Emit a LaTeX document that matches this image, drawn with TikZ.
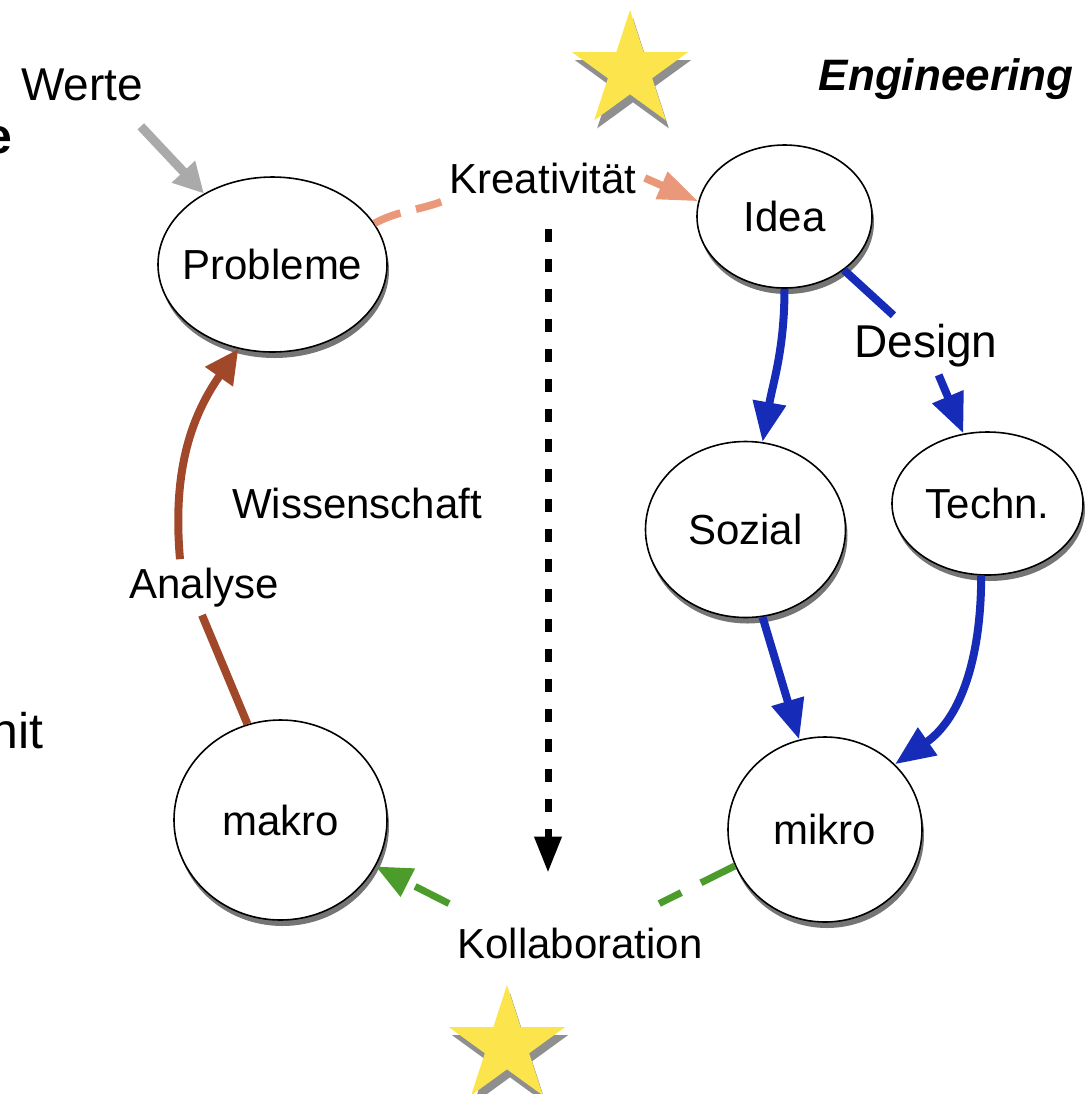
\documentclass[tikz,border=0pt]{standalone}
\usepackage{fontspec}
\setmainfont{Liberation Sans}
\usetikzlibrary{shapes.geometric,shadows,arrows.meta}

\definecolor{starfill}{RGB}{252,228,76}
\definecolor{flowgrey}{RGB}{170,170,170}
\definecolor{floworange}{RGB}{233,152,122}
\definecolor{flowbrown}{RGB}{162,72,42}
\definecolor{flowblue}{RGB}{22,44,184}
\definecolor{flowgreen}{RGB}{76,156,44}

\tikzset{
  bubble/.style={ellipse, draw, line width=0.8pt, fill=white, inner xsep=-6pt, inner ysep=0pt,
    drop shadow={shadow xshift=1pt, shadow yshift=-3pt, fill=black!60, opacity=0.9},
    font=\fontsize{21}{25}\selectfont},
  tag/.style={font=\fontsize{21}{25}\selectfont, inner sep=4pt, anchor=base},
  starnode/.style={star, star points=5, star point ratio=2.618, fill=starfill, inner sep=0pt,
    minimum size=61pt, drop shadow={shadow xshift=1.5pt, shadow yshift=-4pt, fill=black!55, opacity=0.8}},
  greyflow/.style={draw=flowgrey, line width=4.5pt, -{Triangle[length=15pt,width=15pt]}},
  orangeflow/.style={draw=floworange, line width=3.8pt, dash pattern=on 14pt off 8pt, -{Triangle[length=20pt,width=14pt]}},
  brownflow/.style={draw=flowbrown, line width=4pt, -{Triangle[length=17pt,width=16pt]}},
  blueflow/.style={draw=flowblue, line width=4pt, -{Triangle[length=20pt,width=16pt]}},
  greenflow/.style={draw=flowgreen, line width=3.5pt, dash pattern=on 19pt off 11pt, -{Triangle[length=18pt,width=15pt]}},
  dotflow/.style={draw=black, line width=3.5pt, dash pattern=on 6.5pt off 8.5pt, -{Triangle[length=18pt,width=13pt]}}
}

\begin{document}
\begin{tikzpicture}[x=0.5pt,y=-0.5pt]
\useasboundingbox (0,0) rectangle (1084,1094);

% Stars
\node[starnode] (startop) at (630,71) {};
\node[starnode] (starbot) at (507,1046) {};

% Cut-off words at the left edge
\node[font=\fontsize{25}{30}\selectfont\bfseries, inner sep=0pt, anchor=base east] (frage) at (13,153) {e};
\node[font=\fontsize{25}{30}\selectfont, inner sep=0pt, anchor=base east] (fragnit) at (44,748) {nit};

% Bubbles
\node[bubble, minimum width=114.5pt, minimum height=87.5pt] (probleme) at (272.5,264.5) {Probleme};
\node[bubble, minimum width=87.5pt, minimum height=71.5pt] (idea) at (784.5,216.5) {Idea};
\node[bubble, minimum width=100pt, minimum height=88pt] (sozial) at (745.5,529.5) {Sozial};
\node[bubble, minimum width=95.5pt, minimum height=71.5pt] (techn) at (987.5,503.5) {Techn.};
\node[bubble, minimum width=106.5pt, minimum height=100pt] (makro) at (280.5,820) {makro};
\node[bubble, minimum width=97pt, minimum height=92.5pt] (mikro) at (825,829.5) {mikro};

% Labels
\node[tag, font=\fontsize{23}{27}\selectfont] (werte) at (82,100) {Werte};
\node[tag, font=\fontsize{22}{26}\selectfont\bfseries\itshape] (eng) at (946,90) {Engineering};
\node[tag] (kreat) at (543,193) {Kreativität};
\node[tag, font=\fontsize{23}{27}\selectfont] (design) at (926,357) {Design};
\node[tag] (wissen) at (357,518) {Wissenschaft};
\node[tag] (analyse) at (204,598) {Analyse};
\node[tag, outer sep=8pt] (kollab) at (580,958) {Kollaboration};

% Werte
\draw[greyflow, shorten <=12pt] (werte.-30) -- (probleme.134);

% Kreativitaet
\draw[orangeflow, -] (probleme.22) to[out=28,in=200] (kreat.south west);
\draw[orangeflow] (kreat.east) -- (idea.170);
\draw[dotflow, shorten <=13.5pt, shorten >=15.5pt] ([xshift=2.5pt]kreat.south) -- ([xshift=-16pt]kollab.north);

% Design
\draw[blueflow] (idea.south) to[out=-90,in=80] (sozial.79);
\draw[blueflow, -] (idea.-42) -- (design);
\draw[blueflow] (design) -- (techn.109);
\draw[blueflow] (sozial.-79) -- (mikro.106);
\draw[blueflow] (techn.-95) to[out=-90,in=35] (mikro.43);

% Kollaboration
\draw[greenflow, -] (mikro.202) -- (kollab);
\draw[greenflow] ([xshift=-65.5pt]kollab.north) -- (makro.-26);

% Analyse
\draw[brownflow, -] (makro.109) -- ([xshift=-1pt]analyse.south);
\draw[brownflow] ([xshift=-12pt]analyse.north) to[out=95,in=-125] (probleme.248);
\end{tikzpicture}
\end{document}
